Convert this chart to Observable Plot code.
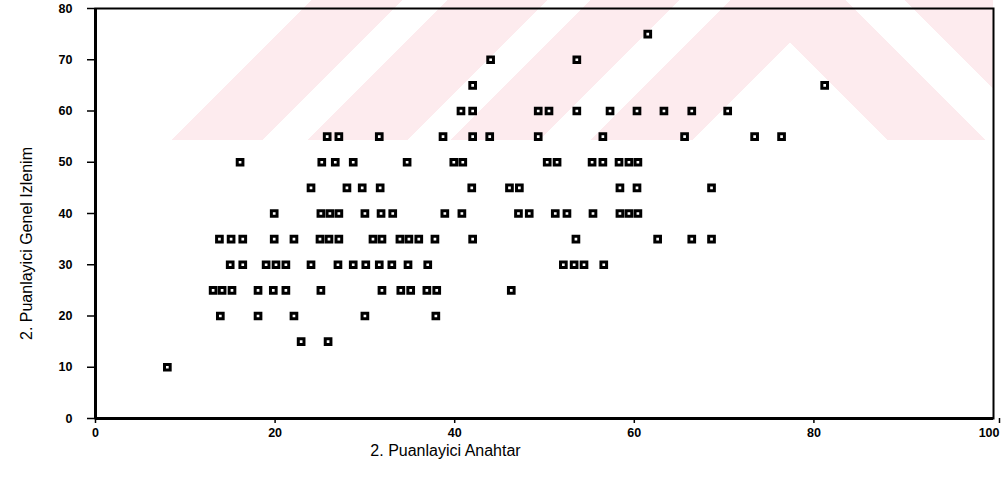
<!DOCTYPE html>
<html>
<head>
<meta charset="utf-8">
<script src="https://cdn.jsdelivr.net/npm/d3@7"></script>
<script src="https://cdn.jsdelivr.net/npm/@observablehq/plot@0.6"></script>
<style>
  html, body { margin: 0; padding: 0; background: #fff; }
  #wrap { position: relative; width: 1001px; height: 500px; overflow: hidden; }
  .wm { position: absolute; top: 0; height: 140px; z-index: 0; }
  #wmL { left: 0; width: 790px;
    background: linear-gradient(135deg,
      transparent 0 220.6px, #fdebee 220.6px 284.3px,
      transparent 284.3px 316.1px, #fdebee 316.1px 386.8px,
      transparent 386.8px 417.2px, #fdebee 417.2px 480.8px,
      transparent 480.8px 516.2px, #fdebee 516.2px 589px,
      transparent 589px); }
  #wmR { left: 790px; width: 203px;
    background: linear-gradient(45deg,
      transparent 0 68.6px, #fdebee 68.6px 137.9px,
      transparent 137.9px 180.3px, #fdebee 180.3px); }
  #chart { position: absolute; left: 0; top: 0; z-index: 1; }
</style>
</head>
<body>
<div id="wrap">
  <div class="wm" id="wmL"></div>
  <div class="wm" id="wmR"></div>
  <div id="chart"></div>
</div>
<script>
// "2. Puanlayici Genel Izlenim" levels (y) and the "2. Puanlayici Anahtar" scores (x) at each level
const genelLevels = [10, 15, 20, 25, 30, 35, 40, 45, 50, 55, 60, 65, 70, 75];
const anahtarAt10 = [8.0];
const anahtarAt15 = [22.9, 25.9];
const anahtarAt20 = [13.9, 18.1, 22.1, 30.0, 37.9];
const anahtarAt25 = [13.1, 14.1, 15.2, 18.1, 19.8, 21.2, 25.1, 31.9, 34.0, 35.1, 36.9, 38.0, 46.3];
const anahtarAt30 = [15.0, 16.4, 19.0, 20.1, 21.2, 24.0, 27.0, 28.7, 30.1, 31.6, 33.0, 34.8, 37.0, 52.1, 53.3, 54.4, 56.6];
const anahtarAt35 = [13.8, 15.1, 16.4, 19.9, 22.1, 25.0, 26.0, 27.1, 30.9, 31.9, 33.9, 34.9, 36.0, 37.8, 42.0, 53.5, 62.6, 66.4, 68.6];
const anahtarAt40 = [19.9, 25.1, 26.1, 27.1, 30.0, 31.8, 33.1, 38.9, 40.8, 47.1, 48.3, 51.2, 52.5, 55.4, 58.4, 59.4, 60.4];
const anahtarAt45 = [24.0, 28.0, 29.7, 31.7, 41.9, 46.1, 47.2, 58.4, 60.3, 68.6];
const anahtarAt50 = [16.1, 25.2, 26.7, 28.7, 34.7, 39.9, 40.9, 50.3, 51.4, 55.3, 56.5, 58.3, 59.4, 60.4];
const anahtarAt55 = [25.8, 27.1, 31.6, 38.7, 42.0, 43.9, 49.3, 56.5, 65.6, 73.4, 76.4];
const anahtarAt60 = [40.7, 42.0, 49.3, 50.5, 53.6, 57.3, 60.3, 63.3, 66.4, 70.4];
const anahtarAt65 = [42.0, 81.2];
const anahtarAt70 = [44.0, 53.6];
const anahtarAt75 = [61.5];

const xTicks = [0, 20, 40, 60, 80];
const xLastTick = [100];
const yTicks = [0, 10, 20, 30, 40, 50, 60, 70, 80];
const xTitle = "2. Puanlayici Anahtar";
const yTitle = "2. Puanlayici Genel Izlenim";

const anahtarLists = [anahtarAt10, anahtarAt15, anahtarAt20, anahtarAt25, anahtarAt30, anahtarAt35,
  anahtarAt40, anahtarAt45, anahtarAt50, anahtarAt55, anahtarAt60, anahtarAt65, anahtarAt70, anahtarAt75];
const points = [];
genelLevels.forEach((g, i) => anahtarLists[i].forEach(a => points.push({anahtar: a, genel: g})));

const font = "'Liberation Sans', Arial, sans-serif";
const chart = Plot.plot({
  width: 1001,
  height: 500,
  marginLeft: 95,
  marginRight: 8,
  marginTop: 8,
  marginBottom: 82,
  style: {background: "transparent", fontFamily: font, color: "#000"},
  x: {domain: [0, 100]},
  y: {domain: [0, 80]},
  marks: [
    Plot.frame({stroke: "#000", strokeWidth: 2}),
    Plot.ruleX([0], {stroke: "#000", strokeWidth: 3}),
    Plot.ruleY([0], {stroke: "#000", strokeWidth: 3}),
    Plot.axisY({ticks: yTicks, tickSize: 8, tickPadding: 15, fontSize: 12.5, fontWeight: "bold", label: null, stroke: "#000", strokeWidth: 1.5}),
    Plot.axisX({ticks: xTicks, tickSize: 5, tickPadding: 5, fontSize: 12.5, fontWeight: "bold", label: null, stroke: "#000", strokeWidth: 1.5}),
    Plot.axisX({ticks: xLastTick, tickSize: 5, tickPadding: 5, fontSize: 12.5, fontWeight: "bold", label: null, stroke: "#000", strokeWidth: 1.5, textAnchor: "end", dx: 6}),
    Plot.text([yTitle], {frameAnchor: "left", textAnchor: "middle", rotate: -90, dx: -69, dy: 30, fontSize: 16, fill: "#000"}),
    Plot.text([xTitle], {frameAnchor: "bottom", textAnchor: "middle", dx: -99, dy: 37, fontSize: 16, fill: "#000"}),
    Plot.dot(points, {x: "anahtar", y: "genel", symbol: "square", r: 3.2, fill: "#fff", stroke: "#000", strokeWidth: 3})
  ]
});
document.getElementById("chart").appendChild(chart);
</script>
</body>
</html>
